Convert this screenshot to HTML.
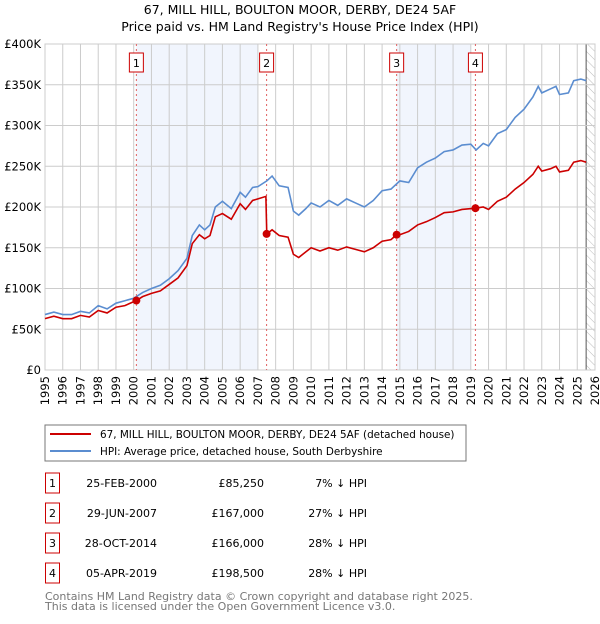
<!DOCTYPE html>
<html><head><meta charset="utf-8"><style>
body{margin:0;background:#fff;font-family:"DejaVu Sans","Liberation Sans",sans-serif;}
svg text{font-family:"DejaVu Sans","Liberation Sans",sans-serif;}
</style></head><body>
<svg id="c" width="600" height="620" xmlns="http://www.w3.org/2000/svg">
<defs><pattern id="hatch" width="6" height="6" patternUnits="userSpaceOnUse" patternTransform="rotate(-45)"><line x1="0" y1="0" x2="0" y2="6" stroke="#bbb" stroke-width="1"/></pattern></defs>
<text x="300" y="14" text-anchor="middle" font-size="12.5">67, MILL HILL, BOULTON MOOR, DERBY, DE24 5AF</text>
<text x="300" y="31" text-anchor="middle" font-size="12.5">Price paid vs. HM Land Registry's House Price Index (HPI)</text>
<g id="plot"></g>
<rect x="45" y="425" width="421" height="36" fill="#fff" stroke="#777"/>
<g><line x1="50" y1="434" x2="91" y2="434" stroke="#cc0000" stroke-width="2"/><text x="100" y="438" font-size="10.4">67, MILL HILL, BOULTON MOOR, DERBY, DE24 5AF (detached house)</text></g>
<g><line x1="50" y1="451" x2="91" y2="451" stroke="#5b8dd0" stroke-width="2"/><text x="100" y="455" font-size="10.4">HPI: Average price, detached house, South Derbyshire</text></g>
<g id="table" font-size="11"></g>
<text x="45" y="600" font-size="11" fill="#777">Contains HM Land Registry data © Crown copyright and database right 2025.</text>
<text x="45" y="610" font-size="11" fill="#777">This data is licensed under the Open Government Licence v3.0.</text>
</svg>
<script>
const hpiYears=[1995,1995.5,1996,1996.5,1997,1997.5,1998,1998.5,1999,1999.5,2000,2000.5,2001,2001.5,2002,2002.5,2003,2003.3,2003.7,2004,2004.3,2004.6,2005,2005.5,2006,2006.3,2006.7,2007,2007.5,2007.8,2008.2,2008.7,2009,2009.3,2009.7,2010,2010.5,2011,2011.5,2012,2012.5,2013,2013.5,2014,2014.5,2015,2015.5,2016,2016.5,2017,2017.5,2018,2018.5,2019,2019.3,2019.7,2020,2020.5,2021,2021.5,2022,2022.5,2022.8,2023,2023.5,2023.8,2024,2024.5,2024.8,2025.2,2025.5];
const hpiValues=[68,71,68,68,72,70,79,75,82,85,88,95,100,104,112,122,137,165,178,172,178,200,207,198,218,212,224,225,232,238,226,224,195,190,198,205,200,208,202,210,205,200,208,220,222,232,230,248,255,260,268,270,276,277,270,278,275,290,295,310,320,335,348,340,345,348,338,340,355,357,355];
const priceYears=[1995,1995.5,1996,1996.5,1997,1997.5,1998,1998.5,1999,1999.5,2000.15,2000.5,2001,2001.5,2002,2002.5,2003,2003.3,2003.7,2004,2004.3,2004.6,2005,2005.5,2006,2006.3,2006.7,2007,2007.45,2007.5,2007.8,2008.2,2008.7,2009,2009.3,2009.7,2010,2010.5,2011,2011.5,2012,2012.5,2013,2013.5,2014,2014.5,2014.82,2015,2015.5,2016,2016.5,2017,2017.5,2018,2018.5,2019.26,2019.7,2020,2020.5,2021,2021.5,2022,2022.5,2022.8,2023,2023.5,2023.8,2024,2024.5,2024.8,2025.2,2025.5];
const priceValues=[63,66,63,63,67,65,73,70,77,79,85.25,90,94,97,105,113,128,155,166,161,165,188,192,185,204,197,208,210,213,167,172,165,163,142,138,145,150,146,150,147,151,148,145,150,158,160,166,166,170,178,182,187,193,194,197,198.5,200,197,207,212,222,230,240,250,244,247,250,243,245,255,257,255];
const saleYears=[2000.15,2007.49,2014.82,2019.26];
const salePrices=[85.25,167,166,198.5];
const saleLabels=["1","2","3","4"];
const saleDates=["25-FEB-2000","29-JUN-2007","28-OCT-2014","05-APR-2019"];
const salePriceText=["£85,250","£167,000","£166,000","£198,500"];
const saleDiff=["7% ↓ HPI","27% ↓ HPI","28% ↓ HPI","28% ↓ HPI"];
const yTicks=[0,50,100,150,200,250,300,350,400];
const yTickLabels=["£0","£50K","£100K","£150K","£200K","£250K","£300K","£350K","£400K"];
const shadeSpans=[[2000.15,2007.0],[2014.82,2019.0]];

const X0=45,X1=595,Y0=370,Y1=44;
const x=y=>X0+(y-1995)/(2026-1995)*(X1-X0);
const yv=v=>Y0-v/400*(Y0-Y1);
const NS="http://www.w3.org/2000/svg";
const plot=document.getElementById('plot');
function mk(tag,attrs,parent){const e=document.createElementNS(NS,tag);for(const k in attrs)e.setAttribute(k,attrs[k]);(parent||plot).appendChild(e);return e;}

mk('rect',{x:X0,y:Y1,width:X1-X0,height:Y0-Y1,fill:'#fff'});
shadeSpans.forEach(s=>{const r=mk('rect',{x:x(s[0]),y:Y1,width:x(s[1])-x(s[0]),height:Y0-Y1,fill:'#f1f5fd'});

});
const h=mk('rect',{x:x(2025.5),y:Y1,width:X1-x(2025.5),height:Y0-Y1,fill:'url(#hatch)'});


mk('line',{x1:x(2025.5),y1:Y1,x2:x(2025.5),y2:Y0,stroke:'#555','stroke-width':1});
for(let yr=1995;yr<=2026;yr++){
  mk('line',{x1:x(yr),y1:Y1,x2:x(yr),y2:Y0,stroke:'#ccc','stroke-width':1});
  const t=mk('text',{x:0,y:0,'font-size':11.5,'text-anchor':'end',transform:`translate(${x(yr)+4},${Y0+6}) rotate(-90)`});
  t.textContent=yr;
  
  
}
yTicks.forEach((v,i)=>{
  mk('line',{x1:X0,y1:yv(v),x2:X1,y2:yv(v),stroke:'#ccc','stroke-width':1});
  const t=mk('text',{x:X0-4,y:yv(v)+4,'font-size':11.5,'text-anchor':'end'});
  t.textContent=yTickLabels[i];
  
  
});
mk('rect',{x:X0,y:Y1,width:X1-X0,height:Y0-Y1,fill:'none',stroke:'#ccc'});
saleYears.forEach((s,i)=>{
  mk('line',{x1:x(s),y1:Y1,x2:x(s),y2:Y0,stroke:'#e06060','stroke-width':1,'stroke-dasharray':'2,3'});
  const g=mk('g',{});
  
  
  mk('rect',{x:x(s)-7,y:53,width:14,height:19,fill:'#fff',stroke:'#cc0000'},g);
  const t=mk('text',{x:x(s),y:67,'font-size':11,'text-anchor':'middle'},g);t.textContent=saleLabels[i];
});
const hp=mk('polyline',{points:hpiYears.map((yr,i)=>x(yr)+','+yv(hpiValues[i])).join(' '),fill:'none',stroke:'#5b8dd0','stroke-width':1.6});


const pp=mk('polyline',{points:priceYears.map((yr,i)=>x(yr)+','+yv(priceValues[i])).join(' '),fill:'none',stroke:'#cc0000','stroke-width':1.6});


saleYears.forEach((s,i)=>{const c=mk('circle',{cx:x(s),cy:yv(salePrices[i]),r:4,fill:'#cc0000'});

});

const tb=document.getElementById('table');
saleYears.forEach((s,i)=>{
  const cy=483+i*30;
  const g=mk('g',{},tb);
  
  
  mk('rect',{x:45.5,y:cy-10,width:14,height:20,fill:'#fff',stroke:'#cc0000'},g);
  let t=mk('text',{x:52.5,y:cy+4,'text-anchor':'middle'},g);t.textContent=saleLabels[i];
  t=mk('text',{x:157,y:cy+4,'text-anchor':'end'},g);t.textContent=saleDates[i];
  t=mk('text',{x:264,y:cy+4,'text-anchor':'end'},g);t.textContent=salePriceText[i];
  t=mk('text',{x:367,y:cy+4,'text-anchor':'end'},g);t.textContent=saleDiff[i];
});
</script>
</body></html>
